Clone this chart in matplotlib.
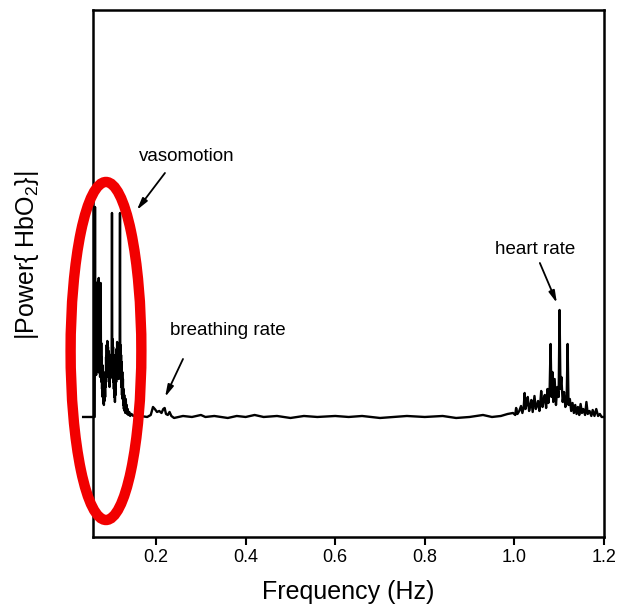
import matplotlib
matplotlib.use("Agg")
import matplotlib.pyplot as plt
from matplotlib.patches import Ellipse

plt.rcParams['font.family'] = ['Liberation Sans', 'DejaVu Sans']
plt.rcParams['mathtext.fontset'] = 'custom'
plt.rcParams['mathtext.rm'] = 'Liberation Sans'

# low frequency part (vasomotion + breathing), (freq Hz, power a.u.)
vaso_points = [
    (0.037, 0), (0.059, 0), (0.0628, 0), (0.0635, 210), (0.0640, 55), (0.0645, 78),
    (0.0650, 48), (0.0655, 72), (0.0660, 42), (0.0665, 68), (0.0670, 50), (0.0675, 80),
    (0.0680, 45), (0.0688, 70), (0.0695, 135), (0.0700, 52), (0.0706, 76), (0.0712, 48),
    (0.0718, 139), (0.0724, 55), (0.0730, 82), (0.0736, 44), (0.0742, 70), (0.0748, 40),
    (0.0755, 66), (0.0762, 134), (0.0768, 48), (0.0774, 74), (0.0780, 35), (0.0786, 60),
    (0.0792, 28), (0.0798, 52), (0.0805, 20), (0.0812, 38), (0.0819, 14), (0.0826, 32),
    (0.0833, 12), (0.0840, 28), (0.0847, 16), (0.0854, 34), (0.0861, 20), (0.0868, 45),
    (0.0875, 30), (0.0882, 60), (0.0889, 42), (0.0896, 72), (0.0903, 50), (0.0910, 76),
    (0.0917, 48), (0.0924, 70), (0.0931, 40), (0.0938, 66), (0.0945, 35), (0.0952, 60),
    (0.0959, 30), (0.0966, 56), (0.0973, 38), (0.0980, 62), (0.0987, 42), (0.0994, 58),
    (0.1000, 40), (0.1007, 66), (0.1014, 204), (0.1020, 55), (0.1026, 78), (0.1032, 45),
    (0.1038, 70), (0.1044, 35), (0.1050, 62), (0.1056, 28), (0.1062, 55), (0.1068, 20),
    (0.1074, 48), (0.1080, 15), (0.1087, 42), (0.1094, 22), (0.1101, 55), (0.1108, 35),
    (0.1115, 68), (0.1122, 45), (0.1129, 75), (0.1136, 50), (0.1143, 72), (0.1150, 42),
    (0.1157, 66), (0.1164, 38), (0.1171, 60), (0.1178, 45), (0.1186, 70), (0.1193, 204),
    (0.1199, 52), (0.1205, 72), (0.1211, 38), (0.1217, 62), (0.1223, 30), (0.1230, 55),
    (0.1237, 22), (0.1244, 45), (0.1251, 18), (0.1258, 38), (0.1265, 12), (0.1272, 28),
    (0.1280, 8), (0.1288, 22), (0.1296, 6), (0.1304, 14), (0.1312, 4), (0.1322, 18),
    (0.1332, 6), (0.1342, 12), (0.1352, 3), (0.1365, 8), (0.1380, 2), (0.1400, 5),
    (0.1420, 1), (0.1450, 3), (0.1490, 1), (0.1530, 2), (0.1570, 0),
    (0.165, 1), (0.180, 0), (0.188, 2), (0.193, 10), (0.197, 8), (0.202, 5), (0.207, 6),
    (0.212, 4), (0.216, 8), (0.219, 9), (0.222, 3), (0.226, 2), (0.230, 5), (0.234, 1),
    (0.240, -1), (0.250, 0),
]

# flat middle part
flat_freq = [0.26, 0.28, 0.30, 0.31, 0.33, 0.36, 0.38, 0.40, 0.42, 0.44, 0.47, 0.50,
             0.53, 0.56, 0.60, 0.63, 0.66, 0.70, 0.73, 0.76, 0.80, 0.84, 0.87, 0.90,
             0.93, 0.95, 0.97, 0.985]
flat_power = [1, 0, 2, 0, 1, -1, 1, 0, 2, 0, 1, -1,
              1, 0, 1, 0, 1, -1, 0, 1, 0, 1, -1, 0,
              2, 0, 1, 3]

# heart rate part
heart_freq = [0.997, 1.002, 1.004, 1.007, 1.011, 1.015, 1.018, 1.021, 1.023, 1.025, 1.028,
              1.030, 1.033, 1.036, 1.038, 1.041, 1.043, 1.045, 1.048, 1.051, 1.053, 1.056,
              1.058, 1.060, 1.063, 1.066, 1.068, 1.071, 1.074, 1.076, 1.079, 1.081, 1.083,
              1.085, 1.087, 1.090, 1.093, 1.096, 1.099, 1.101, 1.103, 1.105, 1.108, 1.111,
              1.114, 1.117, 1.119, 1.121, 1.124, 1.127, 1.130, 1.133, 1.136, 1.139, 1.142,
              1.145, 1.148, 1.151, 1.154, 1.158, 1.161, 1.164, 1.168, 1.172, 1.175, 1.179,
              1.183, 1.187, 1.191, 1.195, 1.200]
heart_power = [4, 2, 9, 3, 6, 11, 4, 10, 24, 8, 14,
               20, 6, 12, 17, 5, 13, 21, 8, 12, 16, 6,
               14, 26, 10, 18, 22, 9, 28, 14, 30, 73, 20,
               45, 15, 38, 12, 30, 20, 107, 28, 40, 15, 25,
               10, 20, 73, 12, 18, 6, 14, 4, 12, 3, 10,
               2, 13, 4, 8, 2, 15, 3, 6, 1, 7, 1,
               8, 1, 3, 0, 0]

xticks = [0.2, 0.4, 0.6, 0.8, 1.0, 1.2]

freq = [f for f, p in vaso_points] + flat_freq + heart_freq
power = [p for f, p in vaso_points] + flat_power + heart_power

fig = plt.figure(figsize=(6.2, 6.08), dpi=100)
ax = fig.add_axes([0.15, 0.1168, 0.824, 0.8668])
ax.plot(freq, power, color='black', lw=1.7, clip_on=False)

ax.set_xlim(0.059, 1.2)
ax.set_ylim(-120, 407)
ax.set_xticks(xticks)
ax.set_xticklabels(['%.1f' % t for t in xticks])
ax.set_yticks([])
ax.tick_params(axis='x', direction='out', length=6, width=1.5, labelsize=13, pad=3)
for s in ax.spines.values():
    s.set_linewidth(1.8)

fig.text(0.5613, 1 - 592 / 608, 'Frequency (Hz)', ha='center', va='center', fontsize=18)
fig.text(0.044, 1 - 255 / 608, '|Power{ HbO$_2$}|', ha='center', va='center',
         fontsize=18, rotation=90)

arrow = dict(arrowstyle='-|>,head_length=0.7,head_width=0.18', color='black', lw=1.3,
             shrinkA=0, shrinkB=0)
ax.annotate('', xy=(0.157, 207), xytext=(0.2197, 244), arrowprops=arrow)
ax.text(0.269, 260, 'vasomotion', ha='center', va='center', fontsize=13.5)
ax.annotate('', xy=(0.22, 20), xytext=(0.260, 58), arrowprops=arrow)
ax.text(0.360, 86, 'breathing rate', ha='center', va='center', fontsize=13.5)
ax.annotate('', xy=(1.095, 114), xytext=(1.057, 154), arrowprops=arrow)
ax.text(1.046, 167, 'heart rate', ha='center', va='center', fontsize=13.5)

ell = Ellipse((0.088, 66), width=0.158, height=338, fill=False, edgecolor='#f20000',
              lw=7.5, clip_on=False, zorder=5)
ax.add_patch(ell)

fig.savefig('out.png', dpi=100)
